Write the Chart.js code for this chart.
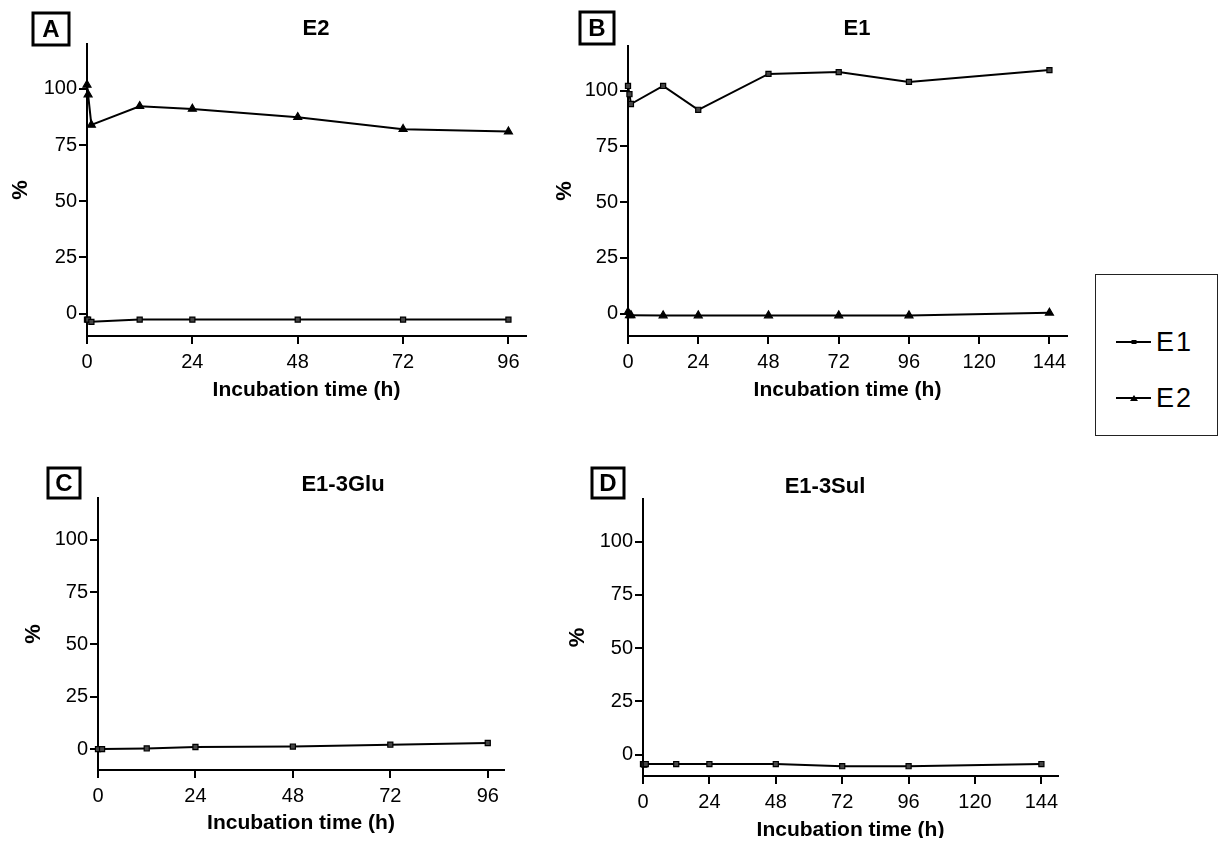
<!DOCTYPE html>
<html>
<head>
<meta charset="utf-8">
<script src="https://cdn.jsdelivr.net/npm/chart.js@4.4.1/dist/chart.umd.min.js"></script>
<style>
  html, body { margin: 0; padding: 0; background: #fff; width: 1220px; height: 854px; overflow: hidden; }
  body { position: relative; font-family: "Liberation Sans", Arial, sans-serif; }
  .panel { position: absolute; overflow: hidden; }
  #legend { position: absolute; left: 1095px; top: 274px; width: 123px; height: 162px; border: 1.5px solid #222; box-sizing: border-box; }
  #legend .item { position: absolute; left: 20px; height: 30px; display: flex; align-items: center; }
  #legend .line { position: relative; width: 35px; height: 2px; background: #000; margin-right: 5px; }
  #legend .mk { position: absolute; left: 50%; top: 50%; transform: translate(-50%, -50%); }
  #legend .txt { font-size: 27px; letter-spacing: 2px; color: #000; }
</style>
</head>
<body>
<div id="legend"></div>
<script>
// ---- data ----
const seriesNames = ['E1', 'E2'];

const timeA = [0, 0.25, 1, 12, 24, 48, 72, 96];
const e1A   = [-2.7, -2.7, -3.7, -2.7, -2.7, -2.7, -2.7, -2.7];
const e2A   = [101.8, 97.5, 84, 92.3, 91.1, 87.4, 82.1, 81];

const timeB = [0, 0.5, 1, 12, 24, 48, 72, 96, 144];
const e1B   = [102.1, 98.4, 94, 102.1, 91.4, 107.5, 108.3, 103.9, 109.2];
const e2B   = [0.7, -0.7, -0.7, -0.8, -0.8, -0.8, -0.8, -0.8, 0.4];

const timeC = [0, 1, 12, 24, 48, 72, 96];
const e1C   = [0, 0, 0.3, 1, 1.2, 2.1, 2.9];

const timeD = [0, 0.5, 1, 12, 24, 48, 72, 96, 144];
const e1D   = [-4.4, -4.6, -4.4, -4.4, -4.4, -4.4, -5.4, -5.4, -4.4];

const yTicks    = [0, 25, 50, 75, 100];
const xTicks96  = [0, 24, 48, 72, 96];
const xTicks144 = [0, 24, 48, 72, 96, 120, 144];

const panelLetters = ['A', 'B', 'C', 'D'];
const panelTitles  = ['E2', 'E1', 'E1-3Glu', 'E1-3Sul'];
const xTitle = 'Incubation time (h)';
const yTitle = '%';

// ---- layout (page px) ----
const FAMILY = '"Liberation Sans", Arial, sans-serif';
const layout = [
  { canvas: [0, 0, 545, 420],     area: [87, 44, 526, 336],    yTitleX: 21,  xTitleY: 390, titleX: 316, titleY: 29,  box: [33, 13, 36, 32] },
  { canvas: [545, 0, 545, 420],   area: [628, 46, 1067, 336],  yTitleX: 565, xTitleY: 390, titleX: 857, titleY: 29,  box: [580, 12, 34, 32] },
  { canvas: [0, 440, 545, 414],   area: [98, 498, 504, 770],   yTitleX: 34,  xTitleY: 823, titleX: 343, titleY: 485, box: [48, 468, 32, 30] },
  { canvas: [545, 440, 535, 398], area: [643, 499, 1058, 776], yTitleX: 578, xTitleY: 830, titleX: 825, titleY: 487, box: [592, 468, 32, 30] },
];

const markers = {
  E1: { pointStyle: 'rect', pointRadius: 3.6, pointBackgroundColor: '#444' },
  E2: { pointStyle: 'triangle', pointRadius: 4.6, pointBackgroundColor: '#000' },
};

// letter box + title above each panel
const panelHeader = {
  id: 'panelHeader',
  afterDraw(chart, args, o) {
    const ctx = chart.ctx;
    const [bx, by, bw, bh] = o.box;
    ctx.save();
    ctx.strokeStyle = '#000';
    ctx.lineWidth = 3;
    ctx.strokeRect(bx - o.ox, by - o.oy, bw, bh);
    ctx.fillStyle = '#000';
    ctx.textAlign = 'center';
    ctx.textBaseline = 'middle';
    ctx.font = 'bold 24px ' + FAMILY;
    ctx.fillText(o.letter, bx - o.ox + bw / 2, by - o.oy + bh / 2 + 1);
    ctx.font = 'bold 22px ' + FAMILY;
    ctx.fillText(o.title, o.titleX - o.ox, o.titleY - o.oy);
    ctx.restore();
  }
};

function makePanel(i, times, series, xTicks, xMax) {
  const L = layout[i];
  const [cx, cy, cw, ch] = L.canvas;
  const [l, t, r, b] = L.area;

  const wrap = document.createElement('div');
  wrap.className = 'panel';
  wrap.style.cssText = `left:${cx}px;top:${cy}px;width:${cw}px;height:${ch}px`;
  const cv = document.createElement('canvas');
  cv.width = cw; cv.height = ch;
  wrap.appendChild(cv);
  document.body.appendChild(wrap);

  new Chart(cv, {
    type: 'line',
    data: {
      datasets: series.map(s => ({
        label: s.name,
        data: times.map((x, k) => ({ x, y: s.values[k] })),
        borderColor: '#000', borderWidth: 2, tension: 0, clip: false,
        pointBorderColor: '#000', pointBorderWidth: 1.2,
        ...markers[s.name]
      }))
    },
    options: {
      responsive: false, animation: false,
      layout: { padding: { left: 0, top: t - cy, right: cx + cw - r, bottom: 0 } },
      plugins: {
        legend: { display: false }, tooltip: { enabled: false },
        panelHeader: { letter: panelLetters[i], title: panelTitles[i], box: L.box, titleX: L.titleX, titleY: L.titleY, ox: cx, oy: cy }
      },
      scales: {
        x: {
          type: 'linear', min: 0, max: xMax,
          afterBuildTicks: s => { s.ticks = xTicks.map(v => ({ value: v })); },
          afterFit: s => { s.height = cy + ch - b; },
          grid: { drawOnChartArea: false, drawTicks: true, tickLength: 8, color: '#000', lineWidth: 2 },
          border: { display: true, color: '#000', width: 2 },
          ticks: { color: '#000', padding: 6, maxRotation: 0, autoSkip: false, font: { size: 20, family: FAMILY } },
          title: { display: true, text: xTitle, color: '#000',
                   font: { size: 21, weight: 'bold', family: FAMILY, lineHeight: 1 },
                   padding: { top: 0, bottom: cy + ch - L.xTitleY - 10.5 } }
        },
        y: {
          min: -10, max: 120,
          afterBuildTicks: s => { s.ticks = yTicks.map(v => ({ value: v })); },
          afterFit: s => { s.width = l - cx; },
          grid: { drawOnChartArea: false, drawTicks: true, tickLength: 8, color: '#000', lineWidth: 2 },
          border: { display: true, color: '#000', width: 2 },
          ticks: { color: '#000', padding: 2, font: { size: 20, family: FAMILY } },
          title: { display: true, text: yTitle, color: '#000',
                   font: { size: 22, weight: 'bold', family: FAMILY, lineHeight: 1 },
                   padding: { top: L.yTitleX - cx - 11, bottom: 0 } }
        }
      }
    },
    plugins: [panelHeader]
  });
}

makePanel(0, timeA, [{ name: 'E1', values: e1A }, { name: 'E2', values: e2A }], xTicks96, 100);
makePanel(1, timeB, [{ name: 'E1', values: e1B }, { name: 'E2', values: e2B }], xTicks144, 150);
makePanel(2, timeC, [{ name: 'E1', values: e1C }], xTicks96, 100);
makePanel(3, timeD, [{ name: 'E1', values: e1D }], xTicks144, 150);

// legend box on the right
const legendEl = document.getElementById('legend');
const rowTops = [52, 108];
seriesNames.forEach((name, k) => {
  const item = document.createElement('div');
  item.className = 'item';
  item.style.top = rowTops[k] + 'px';
  const line = document.createElement('div');
  line.className = 'line';
  const mk = document.createElement('div');
  mk.className = 'mk';
  if (name === 'E1') {
    mk.style.cssText += 'width:5px;height:4px;background:#000;';
  } else {
    mk.style.cssText += 'width:0;height:0;border-left:4px solid transparent;border-right:4px solid transparent;border-bottom:6px solid #000;';
  }
  line.appendChild(mk);
  const txt = document.createElement('span');
  txt.className = 'txt';
  txt.textContent = name;
  item.appendChild(line);
  item.appendChild(txt);
  legendEl.appendChild(item);
});
</script>
</body>
</html>
